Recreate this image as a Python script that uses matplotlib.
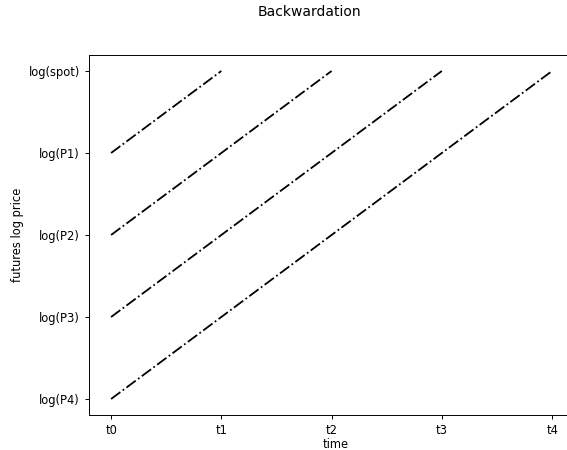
import matplotlib
matplotlib.use("Agg")
import matplotlib.pyplot as plt

xticklabels = ["t0", "t1", "t2", "t3", "t4"]
yticklabels = ["log(P4)", "log(P3)", "log(P2)", "log(P1)", "log(spot)"]
times = [0, 1, 2, 3, 4]
levels = [0, 1, 2, 3, 4]  # P4, P3, P2, P1, spot
# each futures contract k: starts at t0 at level of P_k, converges to spot at t_k
contracts = [1, 2, 3, 4]

plt.rcParams["font.size"] = 8.3
fig = plt.figure(figsize=(5.67, 4.5), dpi=100)
ax = fig.add_axes([0.157, 0.0769, 0.87, 0.8018])
for k in contracts:
    ax.plot([times[0], times[k]], [levels[4 - k], levels[4]], linestyle="-.", color="k", linewidth=1.3)
ax.set_xlim(-0.2, 4.274)
ax.set_xticks(times)
ax.set_xticklabels(xticklabels)
ax.set_yticks(levels)
ax.set_yticklabels(yticklabels)
ax.set_xlabel("time", labelpad=0.5)
ax.set_ylabel("futures log price", labelpad=3)
for s in ax.spines.values():
    s.set_linewidth(0.7)
ax.tick_params(width=0.7, length=3)
fig.text(309 / 567, 1 - 12 / 450, "Backwardation", ha="center", va="center", fontsize=10)
fig.savefig("out.png", dpi=100)
